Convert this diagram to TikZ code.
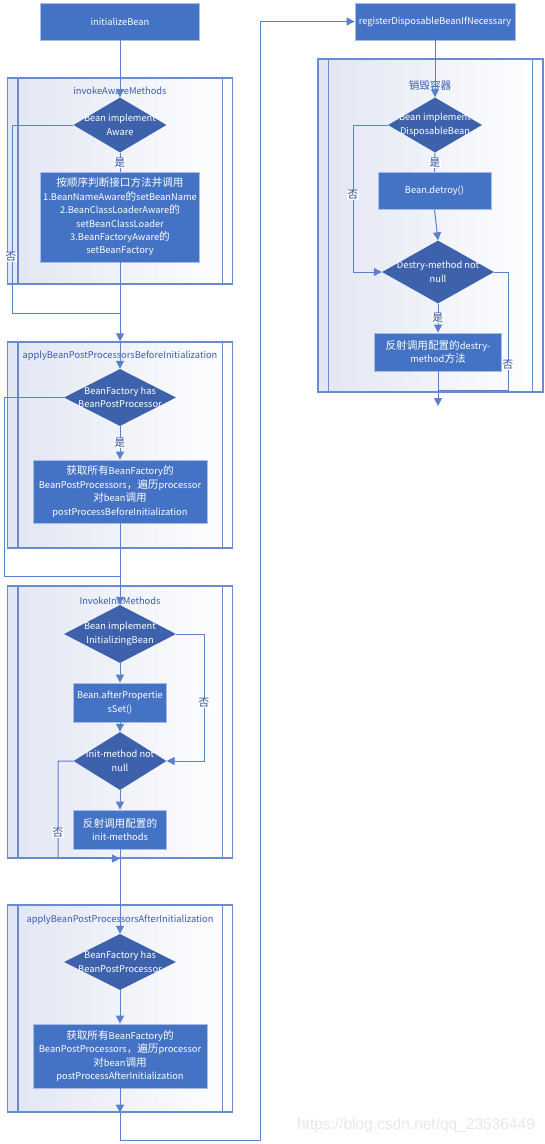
\documentclass[tikz,border=0pt]{standalone}
\usepackage{fontspec}
\setmainfont{Noto Sans CJK SC}
\newfontfamily\wmfont{Liberation Sans}
\usetikzlibrary{shapes.geometric,arrows.meta}
\definecolor{boxblue}{HTML}{4472C4}
\definecolor{diablue}{HTML}{3D62AB}
\definecolor{edgeblue}{HTML}{A8BCE4}
\definecolor{lineblue}{HTML}{5B80CC}
\definecolor{contblue}{HTML}{6A8BD0}
\definecolor{titleblue}{HTML}{3A5BAE}
\definecolor{labblue}{HTML}{2B4A95}
\definecolor{shadeA}{HTML}{E2E6F3}
\newcommand\zh[1]{{\fontsize{10.6}{13.2}\selectfont #1}}
\begin{document}
\begin{tikzpicture}[x=1pt,y=-1pt,
  font=\fontsize{9.3}{13.4}\selectfont,
  proc/.style={rectangle, draw=edgeblue, line width=0.8pt, fill=boxblue, text=white, align=center, inner sep=0pt},
  dia/.style={diamond, fill=diablue, draw=none, inner sep=0pt},
  dtext/.style={text=white, align=center, inner sep=0pt},
  cont/.style={rectangle, draw=contblue, line width=1.2pt, left color=shadeA, right color=white, inner sep=0pt},
  contline/.style={draw=contblue, line width=1.2pt},
  ttl/.style={text=titleblue, inner sep=0pt},
  conn/.style={draw=lineblue, line width=1pt},
  arr/.style={conn, -{Triangle[width=8pt,length=8pt]}},
  lab/.style={fill=white, text=labblue, inner sep=0.5pt}
]
\fill[white] (0,0) rectangle (545,1144);
\useasboundingbox (0,0) rectangle (545,1144);

% containers
\node[cont, minimum width=225, minimum height=206] (c1) at (120,181) {};
\node[cont, minimum width=225, minimum height=206] (c2) at (120,445) {};
\node[cont, minimum width=225, minimum height=272] (c3) at (120,722) {};
\node[cont, minimum width=225, minimum height=207] (c4) at (120,1008.5) {};
\node[cont, minimum width=225, minimum height=333] (c5) at (430.5,225.5) {};
\foreach \c in {c1,c2,c3,c4,c5}{
  \draw[contline] ([xshift=11pt]\c.north west) -- ([xshift=11pt]\c.south west);
  \draw[contline] ([xshift=-11pt]\c.north east) -- ([xshift=-11pt]\c.south east);
}

% titles
\node[ttl] (t1) at (120,91) {invokeAwareMethods};
\node[ttl] (t2) at (120,356) {applyBeanPostProcessorsBeforeInitialization};
\node[ttl] (t3) at (120,601) {InvokeInitMethods};
\node[ttl] (t4) at (120,920) {applyBeanPostProcessorsAfterInitialization};
\node[ttl] (t5) at (430,85) {\zh{销毁容器}};

% left column
\node[proc, minimum width=159, minimum height=37] (init) at (120,21.5) {initializeBean};
\node[dia, minimum width=93, minimum height=55] (d1) at (120,125) {};
\node[dtext] (d1t) at (d1) {Bean implement\\Aware};
\node[proc, minimum width=159, minimum height=90] (r1) at (120,217) {\zh{按顺序判断接口方法并调用}\\1.BeanNameAware\zh{的}setBeanName\\2.BeanClassLoaderAware\zh{的}\\setBeanClassLoader\\3.BeanFactoryAware\zh{的}\\setBeanFactory};

\node[dia, minimum width=112, minimum height=57] (d2) at (120,397.5) {};
\node[dtext] (d2t) at (d2) {BeanFactory has\\BeanPostProcessor};
\node[proc, minimum width=174, minimum height=63] (r2) at (120,491.5) {\zh{获取所有}BeanFactory\zh{的}\\BeanPostProcessors\zh{，遍历}processor\\\zh{对}bean\zh{调用}\\postProcessBeforeInitialization};

\node[dia, minimum width=112, minimum height=58] (d3) at (120,634) {};
\node[dtext] (d3t) at (d3) {Bean implement\\InitializingBean};
\node[proc, minimum width=93, minimum height=39] (r3) at (120,702.5) {Bean.afterPropertie\\sSet()};
\node[dia, minimum width=93, minimum height=58] (d4) at (120,761) {};
\node[dtext] (d4t) at (d4) {Init-method not\\null};
\node[proc, minimum width=93, minimum height=39] (r4) at (120,829.5) {\zh{反射调用配置的}\\init-methods};

\node[dia, minimum width=112, minimum height=56] (d5) at (120,962) {};
\node[dtext] (d5t) at (d5) {BeanFactory has\\BeanPostProcessor};
\node[proc, minimum width=174, minimum height=64] (r5) at (120,1056) {\zh{获取所有}BeanFactory\zh{的}\\BeanPostProcessors\zh{，遍历}processor\\\zh{对}bean\zh{调用}\\postProcessAfterInitialization};

% right column
\node[proc, minimum width=160, minimum height=37] (reg) at (435,21.5) {registerDisposableBeanIfNecessary};
\node[dia, minimum width=94, minimum height=55] (d6) at (435,125) {};
\node[dtext] (d6t) at (d6) {Bean implement\\DisposableBean};
\node[proc, minimum width=113, minimum height=37] (r6) at (434.5,190.5) {Bean.detroy()};
\node[dia, minimum width=112, minimum height=63] (d7) at (438,272) {};
\node[dtext] (d7t) at (d7) {Destry-method not\\null};
\node[proc, minimum width=127, minimum height=38] (r7) at (438,352) {\zh{反射调用配置的}destry-\\method\zh{方法}};

% coordinates
\coordinate (l1) at (12,313);
\coordinate (m1) at (120,313);
\coordinate (l2) at (4,576);
\coordinate (m2) at (120,576);
\coordinate (n3) at (204,761);
\coordinate (n4) at (58,858);
\coordinate (b1) at (260,1140);
\coordinate (n6) at (353,272);
\coordinate (n7) at (508,390);
\coordinate (j7) at (438,390);
\coordinate (e7) at (438,406);

% connectors
\draw[arr] (init.south) -- (d1.north);
\draw[conn] (d1.south) -- (r1.north);
\draw[conn] (d1.west) -| (l1) -- (m1);
\draw[arr] (r1.south) -- (c2.north);
\draw[arr] (c2.north) -- (d2.north);
\draw[arr] (d2.south) -- (r2.north);
\draw[conn] (d2.west) -| (l2) -- (m2);
\draw[arr] (r2.south) -- (d3.north);
\draw[arr] (d3.south) -- (r3.north);
\draw[arr] (r3.south) -- (d4.north);
\draw[arr] (d3.east) -| (n3) -- (d4.east);
\draw[arr] (d4.south) -- (r4.north);
\draw[arr] (d4.west) -| (n4) -- (c3.south);
\draw[arr] (r4.south) -- (d5.north);
\draw[arr] (d5.south) -- (r5.north);
\draw[arr] (r5.south) -- (c4.south);
\draw[arr] (c4.south) |- (b1) |- (reg.west);

\draw[arr] (reg.south) -- (d6.north);
\draw[conn] (d6.south) -- (r6.north);
\draw[arr] (d6.west) -| (n6) -- (d7.west);
\draw[arr] (r6.south) -- (d7.north);
\draw[arr] (d7.south) -- (r7.north);
\draw[conn] (d7.east) -| (n7) -- (j7);
\draw[arr] (r7.south) -- (e7);

% branch labels
\node[lab] (y1) at (120,163) {\zh{是}};
\node[lab] (no1) at (11,257) {\zh{否}};
\node[lab] (y2) at (120,443) {\zh{是}};
\node[lab] (no3) at (204,703) {\zh{否}};
\node[lab] (no4) at (58,833) {\zh{否}};
\node[lab] (y6) at (435,163) {\zh{是}};
\node[lab] (no6) at (353,195) {\zh{否}};
\node[lab] (y7) at (438,318) {\zh{是}};
\node[lab] (no7) at (508,365) {\zh{否}};

% watermark
\node[text=black!9, font=\wmfont\fontsize{15.5}{18}\selectfont, inner sep=0pt] (wm) at (416,1125) {https://blog.csdn.net/qq\_23536449};
\end{tikzpicture}
\end{document}
